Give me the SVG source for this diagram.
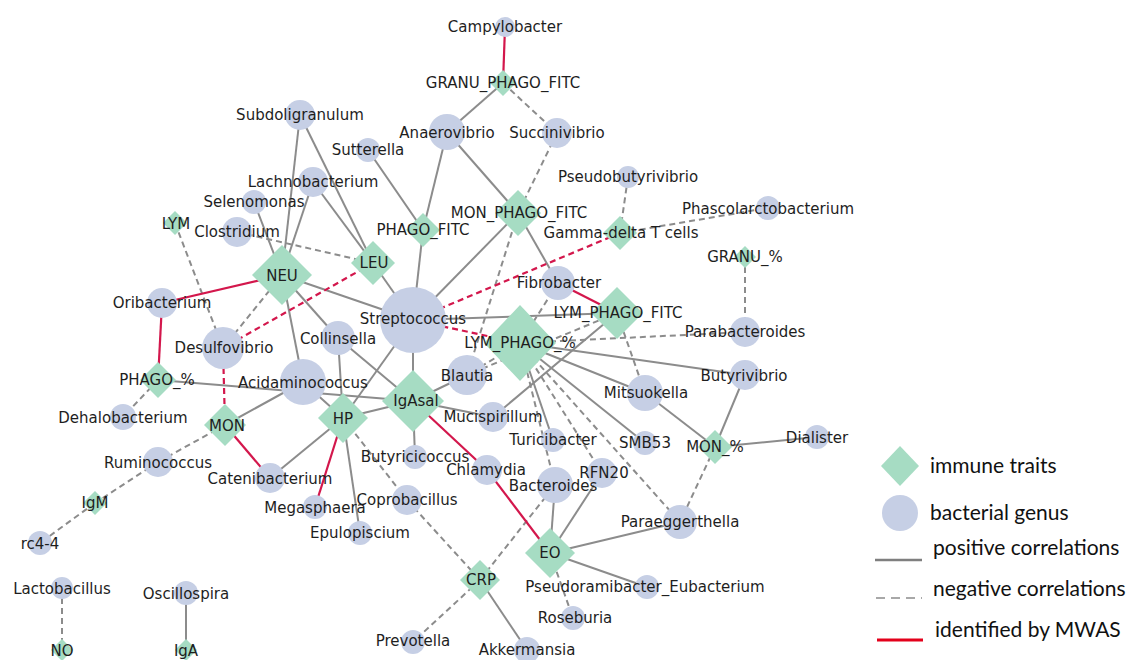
<svg xmlns="http://www.w3.org/2000/svg" width="1129" height="660" viewBox="0 0 1129 660">
<style>
.p{stroke:#8c8c8c;stroke-width:2;fill:none}
.n{stroke:#8c8c8c;stroke-width:2;fill:none;stroke-dasharray:6 4}
.r{stroke:#d3174c;stroke-width:2.2;fill:none}
.rn{stroke:#d3174c;stroke-width:2.2;fill:none;stroke-dasharray:6 4}
.b{fill:#c6cfe5}
.d{fill:#a6dcc3}
text{font-family:"DejaVu Sans",sans-serif;font-size:15px;fill:#1e1e1e;text-anchor:middle}
.lg{font-family:Lato,"Liberation Sans",sans-serif;font-size:21px;text-anchor:start;fill:#111}
</style>
<rect width="1129" height="660" fill="#fff"/>
<g id="connectors">
<line class="p" x1="300" y1="115" x2="282" y2="275"/>
<line class="p" x1="300" y1="115" x2="373" y2="263"/>
<line class="p" x1="313" y1="182" x2="282" y2="275"/>
<line class="p" x1="313" y1="182" x2="373" y2="263"/>
<line class="p" x1="254" y1="202" x2="282" y2="275"/>
<line class="p" x1="368" y1="150" x2="423" y2="230"/>
<line class="p" x1="447" y1="132" x2="503" y2="83"/>
<line class="p" x1="447" y1="132" x2="423" y2="230"/>
<line class="p" x1="447" y1="132" x2="518" y2="213"/>
<line class="p" x1="423" y1="230" x2="413" y2="320"/>
<line class="p" x1="518" y1="213" x2="413" y2="320"/>
<line class="p" x1="518" y1="213" x2="558" y2="283"/>
<line class="p" x1="373" y1="263" x2="413" y2="320"/>
<line class="p" x1="282" y1="275" x2="413" y2="320"/>
<line class="p" x1="282" y1="275" x2="338" y2="338"/>
<line class="p" x1="282" y1="275" x2="303" y2="382"/>
<line class="p" x1="413" y1="320" x2="617" y2="313"/>
<line class="p" x1="413" y1="320" x2="413" y2="401"/>
<line class="p" x1="413" y1="320" x2="343" y2="418"/>
<line class="p" x1="338" y1="338" x2="343" y2="418"/>
<line class="p" x1="338" y1="338" x2="413" y2="401"/>
<line class="p" x1="158" y1="380" x2="413" y2="401"/>
<line class="p" x1="225" y1="425" x2="303" y2="382"/>
<line class="p" x1="303" y1="382" x2="343" y2="418"/>
<line class="p" x1="343" y1="418" x2="270" y2="478"/>
<line class="p" x1="343" y1="418" x2="360" y2="533"/>
<line class="p" x1="343" y1="418" x2="413" y2="401"/>
<line class="p" x1="413" y1="401" x2="467" y2="375"/>
<line class="p" x1="413" y1="401" x2="493" y2="417"/>
<line class="p" x1="413" y1="401" x2="415" y2="457"/>
<line class="p" x1="617" y1="313" x2="493" y2="417"/>
<line class="p" x1="520" y1="343" x2="645" y2="393"/>
<line class="p" x1="520" y1="343" x2="745" y2="375"/>
<line class="p" x1="520" y1="343" x2="645" y2="443"/>
<line class="p" x1="520" y1="343" x2="553" y2="440"/>
<line class="p" x1="715" y1="447" x2="645" y2="393"/>
<line class="p" x1="715" y1="447" x2="745" y2="375"/>
<line class="p" x1="715" y1="447" x2="817" y2="437"/>
<line class="p" x1="550" y1="553" x2="555" y2="485"/>
<line class="p" x1="550" y1="553" x2="602" y2="473"/>
<line class="p" x1="550" y1="553" x2="680" y2="522"/>
<line class="p" x1="550" y1="553" x2="647" y2="587"/>
<line class="p" x1="480" y1="580" x2="527" y2="650"/>
<line class="p" x1="186" y1="593" x2="186" y2="650"/>
<line class="n" x1="503" y1="83" x2="557" y2="133"/>
<line class="n" x1="557" y1="133" x2="518" y2="213"/>
<line class="n" x1="620" y1="233" x2="628" y2="177"/>
<line class="n" x1="620" y1="233" x2="768" y2="208"/>
<line class="n" x1="745" y1="257" x2="745" y2="332"/>
<line class="n" x1="237" y1="232" x2="373" y2="263"/>
<line class="n" x1="175" y1="223" x2="223" y2="348"/>
<line class="n" x1="282" y1="275" x2="223" y2="348"/>
<line class="n" x1="158" y1="380" x2="123" y2="417"/>
<line class="n" x1="225" y1="425" x2="158" y2="462"/>
<line class="n" x1="158" y1="462" x2="95" y2="503"/>
<line class="n" x1="95" y1="503" x2="40" y2="543"/>
<line class="n" x1="62" y1="588" x2="62" y2="650"/>
<line class="n" x1="343" y1="418" x2="407" y2="500"/>
<line class="n" x1="407" y1="500" x2="480" y2="580"/>
<line class="n" x1="480" y1="580" x2="555" y2="485"/>
<line class="n" x1="480" y1="580" x2="413" y2="642"/>
<line class="n" x1="550" y1="553" x2="573" y2="618"/>
<line class="n" x1="715" y1="447" x2="680" y2="522"/>
<line class="n" x1="617" y1="313" x2="645" y2="393"/>
<line class="n" x1="520" y1="343" x2="745" y2="332"/>
<line class="n" x1="520" y1="343" x2="555" y2="485"/>
<line class="n" x1="520" y1="343" x2="602" y2="473"/>
<line class="n" x1="520" y1="343" x2="680" y2="522"/>
<line class="n" x1="520" y1="343" x2="467" y2="375"/>
<line class="n" x1="617" y1="313" x2="467" y2="375"/>
<line class="n" x1="518" y1="213" x2="467" y2="375"/>
<line class="n" x1="558" y1="283" x2="520" y2="343"/>
<line class="r" x1="505" y1="27" x2="503" y2="83"/>
<line class="r" x1="558" y1="283" x2="617" y2="313"/>
<line class="r" x1="282" y1="275" x2="162" y2="303"/>
<line class="r" x1="162" y1="303" x2="158" y2="380"/>
<line class="r" x1="225" y1="425" x2="270" y2="478"/>
<line class="r" x1="343" y1="418" x2="315" y2="507"/>
<line class="r" x1="413" y1="401" x2="487" y2="470"/>
<line class="r" x1="487" y1="470" x2="550" y2="553"/>
<line class="rn" x1="620" y1="233" x2="413" y2="320"/>
<line class="rn" x1="413" y1="320" x2="520" y2="343"/>
<line class="rn" x1="373" y1="263" x2="223" y2="348"/>
<line class="rn" x1="223" y1="348" x2="225" y2="425"/>
</g>
<g id="nodes">
<g id="Campylobacter"><circle class="b" cx="505" cy="27" r="10"/></g>
<g id="GRANU_PHAGO_FITC"><polygon class="d" points="503,70 516,83 503,96 490,83"/></g>
<g id="Anaerovibrio"><circle class="b" cx="447" cy="132" r="18"/></g>
<g id="Succinivibrio"><circle class="b" cx="557" cy="133" r="15"/></g>
<g id="Sutterella"><circle class="b" cx="368" cy="150" r="12"/></g>
<g id="Subdoligranulum"><circle class="b" cx="300" cy="115" r="15"/></g>
<g id="Lachnobacterium"><circle class="b" cx="313" cy="182" r="15"/></g>
<g id="Selenomonas"><circle class="b" cx="254" cy="202" r="12"/></g>
<g id="Clostridium"><circle class="b" cx="237" cy="232" r="15"/></g>
<g id="Pseudobutyrivibrio"><circle class="b" cx="628" cy="177" r="11"/></g>
<g id="Phascolarctobacterium"><circle class="b" cx="768" cy="208" r="12"/></g>
<g id="MON_PHAGO_FITC"><polygon class="d" points="518,190 541,213 518,236 495,213"/></g>
<g id="Gamma-delta"><polygon class="d" points="620,216 637,233 620,250 603,233"/></g>
<g id="PHAGO_FITC"><polygon class="d" points="423,213 440,230 423,247 406,230"/></g>
<g id="LYM"><polygon class="d" points="175,211 187,223 175,235 163,223"/></g>
<g id="LEU"><polygon class="d" points="373,241 395,263 373,285 351,263"/></g>
<g id="NEU"><polygon class="d" points="282,245 312,275 282,305 252,275"/></g>
<g id="GRANU_pct"><polygon class="d" points="745,246 756,257 745,268 734,257"/></g>
<g id="Fibrobacter"><circle class="b" cx="558" cy="283" r="17"/></g>
<g id="LYM_PHAGO_FITC"><polygon class="d" points="617,287 643,313 617,339 591,313"/></g>
<g id="Streptococcus"><circle class="b" cx="413" cy="320" r="33"/></g>
<g id="Oribacterium"><circle class="b" cx="162" cy="303" r="15"/></g>
<g id="Desulfovibrio"><circle class="b" cx="223" cy="348" r="21"/></g>
<g id="Collinsella"><circle class="b" cx="338" cy="338" r="17"/></g>
<g id="LYM_PHAGO_pct"><polygon class="d" points="520,305 556,343 520,381 484,343"/></g>
<g id="Parabacteroides"><circle class="b" cx="745" cy="332" r="15"/></g>
<g id="Acidaminococcus"><circle class="b" cx="303" cy="382" r="23"/></g>
<g id="PHAGO_pct"><polygon class="d" points="158,362 176,380 158,398 140,380"/></g>
<g id="Blautia"><circle class="b" cx="467" cy="375" r="20"/></g>
<g id="Butyrivibrio"><circle class="b" cx="745" cy="375" r="15"/></g>
<g id="Mitsuokella"><circle class="b" cx="645" cy="393" r="18"/></g>
<g id="IgAsal"><polygon class="d" points="413,370 444,401 413,432 382,401"/></g>
<g id="HP"><polygon class="d" points="343,393 368,418 343,443 318,418"/></g>
<g id="MON"><polygon class="d" points="225,404 246,425 225,446 204,425"/></g>
<g id="Mucispirillum"><circle class="b" cx="493" cy="417" r="15"/></g>
<g id="Dehalobacterium"><circle class="b" cx="123" cy="417" r="13"/></g>
<g id="Turicibacter"><circle class="b" cx="553" cy="440" r="12"/></g>
<g id="SMB53"><circle class="b" cx="645" cy="443" r="12"/></g>
<g id="MON_pct"><polygon class="d" points="715,430 732,447 715,464 698,447"/></g>
<g id="Dialister"><circle class="b" cx="817" cy="437" r="12"/></g>
<g id="Ruminococcus"><circle class="b" cx="158" cy="462" r="15"/></g>
<g id="Butyricicoccus"><circle class="b" cx="415" cy="457" r="12"/></g>
<g id="Chlamydia"><circle class="b" cx="487" cy="470" r="15"/></g>
<g id="Bacteroides"><circle class="b" cx="555" cy="485" r="18"/></g>
<g id="RFN20"><circle class="b" cx="602" cy="473" r="15"/></g>
<g id="Catenibacterium"><circle class="b" cx="270" cy="478" r="15"/></g>
<g id="Coprobacillus"><circle class="b" cx="407" cy="500" r="15"/></g>
<g id="Megasphaera"><circle class="b" cx="315" cy="507" r="12"/></g>
<g id="Epulopiscium"><circle class="b" cx="360" cy="533" r="12"/></g>
<g id="Paraeggerthella"><circle class="b" cx="680" cy="522" r="17"/></g>
<g id="IgM"><polygon class="d" points="95,491 107,503 95,515 83,503"/></g>
<g id="rc4-4"><circle class="b" cx="40" cy="543" r="12"/></g>
<g id="EO"><polygon class="d" points="550,528 575,553 550,578 525,553"/></g>
<g id="CRP"><polygon class="d" points="480,560 500,580 480,600 460,580"/></g>
<g id="Pseudoramibacter_Eubacterium"><circle class="b" cx="647" cy="587" r="12"/></g>
<g id="Roseburia"><circle class="b" cx="573" cy="618" r="12"/></g>
<g id="Prevotella"><circle class="b" cx="413" cy="642" r="12"/></g>
<g id="Akkermansia"><circle class="b" cx="527" cy="650" r="13"/></g>
<g id="Lactobacillus"><circle class="b" cx="62" cy="588" r="11"/></g>
<g id="NO"><polygon class="d" points="62,639 73,650 62,661 51,650"/></g>
<g id="Oscillospira"><circle class="b" cx="186" cy="593" r="12"/></g>
<g id="IgA"><polygon class="d" points="186,639 197,650 186,661 175,650"/></g>
</g>
<g id="labels">
<text x="505" y="32">Campylobacter</text>
<text x="503" y="88">GRANU_PHAGO_FITC</text>
<text x="447" y="138">Anaerovibrio</text>
<text x="557" y="138">Succinivibrio</text>
<text x="368" y="155">Sutterella</text>
<text x="300" y="120">Subdoligranulum</text>
<text x="313" y="187">Lachnobacterium</text>
<text x="254" y="207">Selenomonas</text>
<text x="237" y="237">Clostridium</text>
<text x="628" y="182">Pseudobutyrivibrio</text>
<text x="768" y="214">Phascolarctobacterium</text>
<text x="519" y="218">MON_PHAGO_FITC</text>
<text x="621" y="238">Gamma-delta T cells</text>
<text x="423" y="235">PHAGO_FITC</text>
<text x="176" y="229">LYM</text>
<text x="374" y="268">LEU</text>
<text x="282" y="281">NEU</text>
<text x="745" y="262">GRANU_%</text>
<text x="559" y="288">Fibrobacter</text>
<text x="618" y="318">LYM_PHAGO_FITC</text>
<text x="413" y="324">Streptococcus</text>
<text x="162" y="308">Oribacterium</text>
<text x="224" y="353">Desulfovibrio</text>
<text x="338" y="344">Collinsella</text>
<text x="520" y="348">LYM_PHAGO_%</text>
<text x="745" y="337">Parabacteroides</text>
<text x="303" y="388">Acidaminococcus</text>
<text x="157" y="385">PHAGO_%</text>
<text x="467" y="381">Blautia</text>
<text x="744" y="381">Butyrivibrio</text>
<text x="646" y="398">Mitsuokella</text>
<text x="416" y="406">IgAsal</text>
<text x="343" y="424">HP</text>
<text x="227" y="431">MON</text>
<text x="493" y="422">Mucispirillum</text>
<text x="123" y="423">Dehalobacterium</text>
<text x="553" y="445">Turicibacter</text>
<text x="645" y="448">SMB53</text>
<text x="715" y="452">MON_%</text>
<text x="817" y="443">Dialister</text>
<text x="158" y="468">Ruminococcus</text>
<text x="415" y="462">Butyricicoccus</text>
<text x="486" y="475">Chlamydia</text>
<text x="553" y="491">Bacteroides</text>
<text x="604" y="478">RFN20</text>
<text x="270" y="484">Catenibacterium</text>
<text x="407" y="505">Coprobacillus</text>
<text x="315" y="513">Megasphaera</text>
<text x="360" y="538">Epulopiscium</text>
<text x="680" y="527">Paraeggerthella</text>
<text x="95" y="508">IgM</text>
<text x="40" y="549">rc4-4</text>
<text x="550" y="558">EO</text>
<text x="481" y="585">CRP</text>
<text x="645" y="592">Pseudoramibacter_Eubacterium</text>
<text x="575" y="623">Roseburia</text>
<text x="413" y="646">Prevotella</text>
<text x="527" y="655">Akkermansia</text>
<text x="62" y="594">Lactobacillus</text>
<text x="62" y="656">NO</text>
<text x="186" y="599">Oscillospira</text>
<text x="186" y="656">IgA</text>
</g>
<g id="legend">
<polygon class="d" points="900,446 919,466 900,486 881,466"/>
<text class="lg" x="930" y="473">immune traits</text>
<circle class="b" cx="900" cy="513" r="18"/>
<text class="lg" x="930" y="520">bacterial genus</text>
<line x1="875" y1="560" x2="922" y2="560" stroke="#7f7f7f" stroke-width="2.5"/>
<text class="lg" x="933" y="555">positive correlations</text>
<line x1="876" y1="598" x2="922" y2="598" stroke="#8c8c8c" stroke-width="1.5" stroke-dasharray="9 6"/>
<text class="lg" x="933" y="596">negative correlations</text>
<line x1="877" y1="640" x2="923" y2="640" stroke="#e3001b" stroke-width="3"/>
<text class="lg" x="935" y="637">identified by MWAS</text>
</g>
</svg>
